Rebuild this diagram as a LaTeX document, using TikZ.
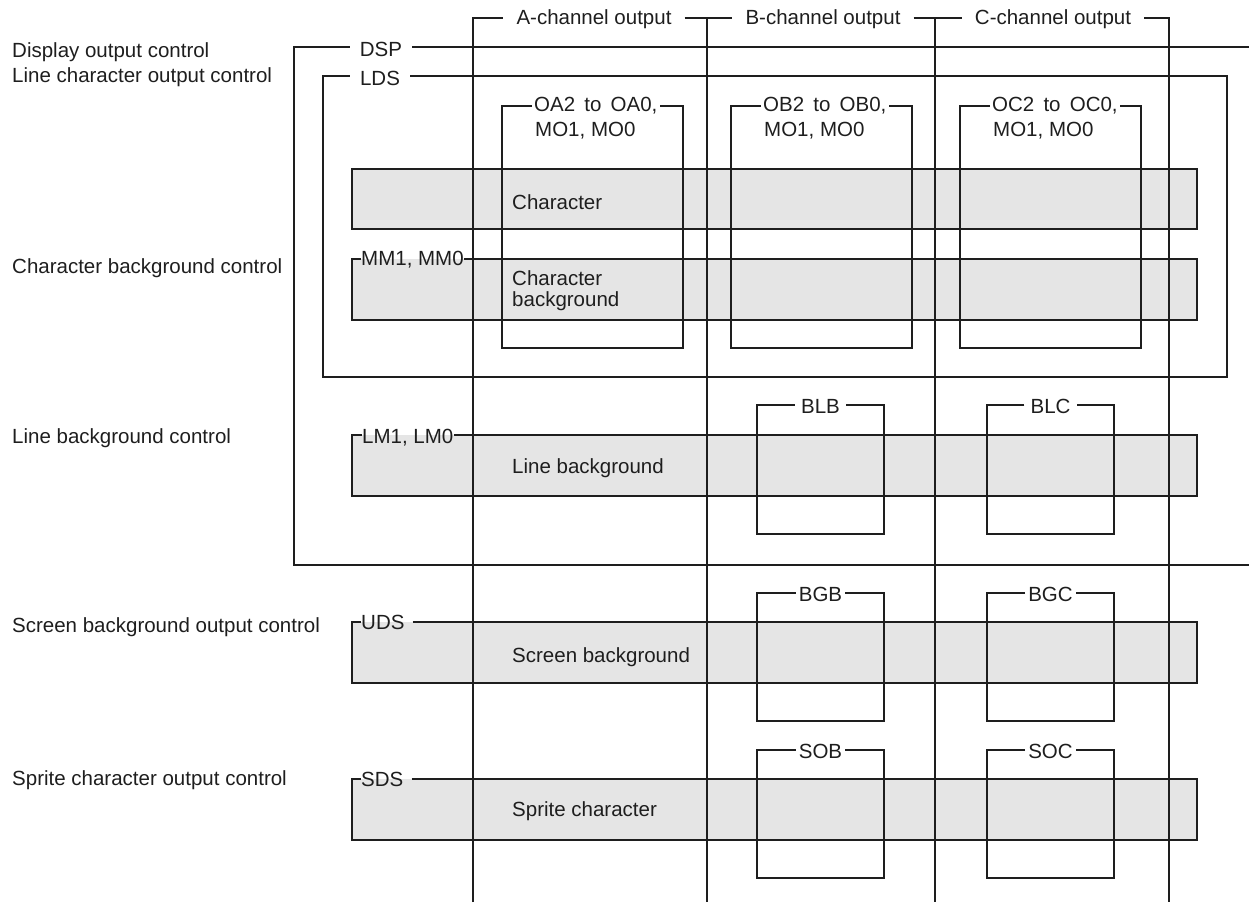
\documentclass[tikz,border=0pt]{standalone}
\usepackage{fontspec}
\setmainfont{Liberation Sans}
\usetikzlibrary{calc}
\definecolor{bandfill}{RGB}{229,229,229}
\definecolor{ink}{RGB}{30,30,30}
\begin{document}
\begin{tikzpicture}[x=1pt,y=-1pt,
  every node/.style={inner sep=0pt, font=\fontsize{20.5}{24.6}\selectfont, text=ink},
  ln/.style={draw=ink, line width=1.2pt, line join=miter},
  lbl/.style={anchor=base west},
  onl/.style={anchor=base}]
\useasboundingbox (0,0) rectangle (1249,902);

% band fills
\foreach \t/\b in {169/229, 259/320, 435/496, 622/683, 779/840}
  \fill[bandfill] (352,\t) rectangle (1197,\b);

% left labels
\node[lbl] (l1) at (12,57) {Display output control};
\node[lbl] (l2) at (12,82) {Line character output control};
\node[lbl] (l3) at (12,273) {Character background control};
\node[lbl] (l4) at (12,443.5) {Line background control};
\node[lbl] (l5) at (12,632) {Screen background output control};
\node[lbl] (l6) at (12,785) {Sprite character output control};

% channel headers
\node[onl, inner xsep=13pt] (ha) at (594,24) {A-channel output};
\node[onl, inner xsep=13pt] (hb) at (823,24) {B-channel output};
\node[onl, inner xsep=13pt] (hc) at (1053,24) {C-channel output};
\draw[ln] (473,902) -- (473,18) -- (ha.west |- 0,18);
\draw[ln] (ha.east |- 0,18) -- (707,18) -- (hb.west |- 0,18);
\draw[ln] (707,18) -- (707,902);
\draw[ln] (hb.east |- 0,18) -- (935,18) -- (hc.west |- 0,18);
\draw[ln] (935,18) -- (935,902);
\draw[ln] (hc.east |- 0,18) -- (1169,18) -- (1169,902);

% DSP
\node[onl, inner xsep=10pt] (dsp) at (381,56) {DSP};
\draw[ln] (dsp.west |- 0,47) -- (294,47) -- (294,565) -- (1249,565);
\draw[ln] (dsp.east |- 0,47) -- (1249,47);

% LDS
\node[onl, inner xsep=10pt] (lds) at (380,85) {LDS};
\draw[ln] (lds.west |- 0,76) -- (323,76) -- (323,377) -- (1227,377) -- (1227,76) -- (lds.east |- 0,76);

% character output boxes
\foreach \n/\c/\dx in {oa/A/0, ob/B/229, oc/C/458} {
  \node[lbl, inner xsep=2pt] (\n) at (532+\dx,111.7) {O\c2\hspace{3.5pt} to\hspace{3.5pt} O\c0,};
  \node[lbl] (\n m) at (535+\dx,136) {MO1, MO0};
  \draw[ln] (\n.west |- 0,106) -- (502+\dx,106) -- (502+\dx,348) -- (683+\dx,348) -- (683+\dx,106) -- (\n.east |- 0,106);
}

% Character band
\draw[ln] (352,169) rectangle (1197,229);
\node[lbl] (tchar) at (512,209) {Character};

% Character background band
\node[lbl] (mm) at (361,265) {MM1, MM0};
\draw[ln] (mm.east |- 0,259) -- (1197,259) -- (1197,320) -- (352,320) -- (352,259) -- (mm.west |- 0,259);
\node[lbl] (tcb1) at (512,285.5) {Character};
\node[lbl] (tcb2) at (512,306) {background};

% Line background band
\node[lbl] (lm) at (362,443.5) {LM1, LM0};
\draw[ln] (lm.east |- 0,435) -- (1197,435) -- (1197,496) -- (352,496) -- (352,435) -- (lm.west |- 0,435);
\node[lbl] (tlb) at (512,473) {Line background};

% Screen background band
\node[lbl] (uds) at (361,629.5) {UDS};
\coordinate (udsR) at ($(uds.east |- 0,622)+(8,0)$);
\draw[ln] (udsR) -- (1197,622) -- (1197,683) -- (352,683) -- (352,622) -- (uds.west |- 0,622);
\node[lbl] (tsb) at (512,662) {Screen background};

% Sprite band
\node[lbl] (sds) at (361,786.5) {SDS};
\coordinate (sdsR) at ($(sds.east |- 0,779)+(8,0)$);
\draw[ln] (sdsR) -- (1197,779) -- (1197,840) -- (352,840) -- (352,779) -- (sds.west |- 0,779);
\node[lbl] (tsp) at (512,816) {Sprite character};

% small boxes B and C
\foreach \n/\t/\top/\bot/\xs in {blb/BLB/405/534/6, bgb/BGB/593/721/3, sob/SOB/750/878/3} {
  \node[onl, inner xsep=\xs pt] (\n) at (820.5,\top+8.5) {\t};
  \draw[ln] (\n.west |- 0,\top) -- (757,\top) -- (757,\bot) -- (884,\bot) -- (884,\top) -- (\n.east |- 0,\top);
}
\foreach \n/\t/\top/\bot/\xs in {blc/BLC/405/534/6, bgc/BGC/593/721/3, soc/SOC/750/878/3} {
  \node[onl, inner xsep=\xs pt] (\n) at (1050.5,\top+8.5) {\t};
  \draw[ln] (\n.west |- 0,\top) -- (987,\top) -- (987,\bot) -- (1114,\bot) -- (1114,\top) -- (\n.east |- 0,\top);
}
\end{tikzpicture}
\end{document}
